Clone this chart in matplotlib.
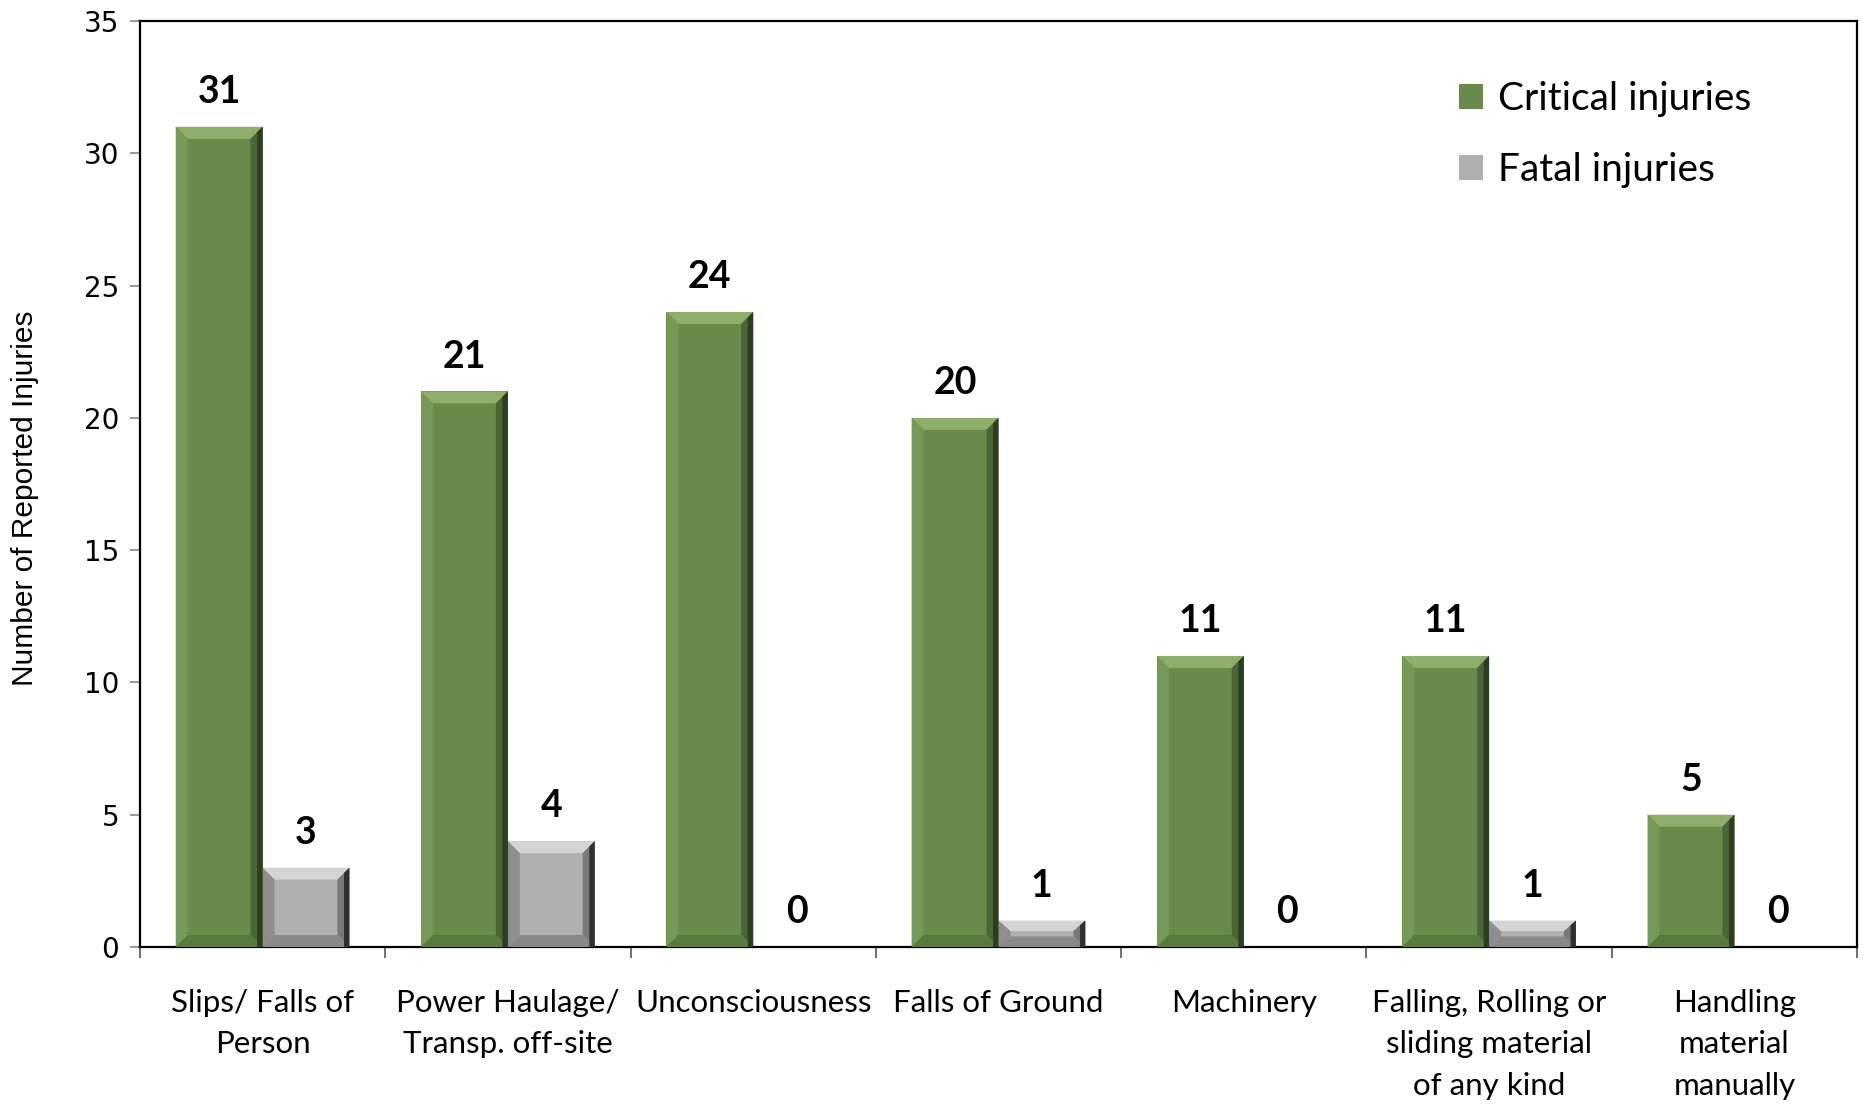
import matplotlib.pyplot as plt
from matplotlib.patches import Polygon
from matplotlib.ticker import FixedLocator
import numpy as np

categories = ['Slips/ Falls of\nPerson', 'Power Haulage/\nTransp. off-site', 'Unconsciousness',
              'Falls of Ground', 'Machinery', 'Falling, Rolling or\nsliding material\nof any kind',
              'Handling\nmaterial\nmanually']
critical = [31, 21, 24, 20, 11, 11, 5]
fatal = [3, 4, 0, 1, 0, 1, 0]

fig = plt.figure(figsize=(18.63, 11.04), dpi=100)
ax = fig.add_axes([0.0751, 0.1422, 0.9217, 0.8388])

x = np.arange(len(categories))
w = 0.354
ax.set_xlim(-0.5, len(categories) - 0.5)
ax.set_ylim(0, 35)

green = '#6a8a4c'
gray = '#b0b0b0'
b1 = ax.bar(x - w / 2, critical, w, color=green, label='Critical injuries')
b2 = ax.bar(x + w / 2, fatal, w, color=gray, label='Fatal injuries')

# fake bevel edges, thickness given in pixels
bbox = ax.get_position()
px_w = bbox.width * fig.get_figwidth() * fig.dpi
px_h = bbox.height * fig.get_figheight() * fig.dpi
tx = 12 * len(categories) / px_w
ty = 12 * 35 / px_h


def bevel(rect, top, left, right, bottom, edge):
    x0, y0 = rect.get_x(), rect.get_y()
    x1, y1 = x0 + rect.get_width(), y0 + rect.get_height()
    if y1 - y0 <= 0:
        return
    t = min(ty, (y1 - y0) / 2.5)
    polys = [
        ([(x0, y1), (x1, y1), (x1 - tx, y1 - t), (x0 + tx, y1 - t)], top),
        ([(x0, y0), (x0, y1), (x0 + tx, y1 - t), (x0 + tx, y0 + t)], left),
        ([(x1, y0), (x1, y1), (x1 - tx, y1 - t), (x1 - tx, y0 + t)], right),
        ([(x0, y0), (x1, y0), (x1 - tx, y0 + t), (x0 + tx, y0 + t)], bottom),
    ]
    for pts, c in polys:
        ax.add_patch(Polygon(pts, closed=True, facecolor=c, edgecolor='none', zorder=3))
    ex = tx * 0.45
    ax.add_patch(Polygon([(x1 - ex, y0), (x1, y0), (x1, y1), (x1 - ex, y1 - t * 0.45)],
                         closed=True, facecolor=edge, edgecolor='none', zorder=4))


for r in b1:
    bevel(r, '#8fae6c', '#779858', '#4a6536', '#587a3e', '#2c3d20')
for r in b2:
    bevel(r, '#d4d4d4', '#8e8e8e', '#7a7a7a', '#888888', '#303030')

for bars, vals in [(b1, critical), (b2, fatal)]:
    for r, v in zip(bars, vals):
        ax.annotate(str(v), (r.get_x() + r.get_width() / 2, r.get_height()),
                    xytext=(0, 25), textcoords='offset points', ha='center', va='center',
                    fontsize=27, fontweight='bold', family='Lato')

ax.set_yticks(range(0, 36, 5))
ax.tick_params(axis='y', labelsize=20, length=7, color='#888888', width=1.2, pad=8)
for lab in ax.get_yticklabels():
    lab.set_family('DejaVu Sans')

ax.set_xticks(x)
ax.set_xticklabels(categories, fontsize=22.5, family='Lato', linespacing=1.6, va='top')
ax.tick_params(axis='x', which='major', length=0, pad=30)
ax.xaxis.set_minor_locator(FixedLocator(np.arange(-0.5, len(categories), 1)))
ax.tick_params(axis='x', which='minor', length=8, color='#555555', width=1.2)

ax.set_ylabel('Number of Reported Injuries', fontsize=21.5, family='Liberation Sans', labelpad=6)
ax.yaxis.set_label_coords(-0.0585, 0.485)

for s in ax.spines.values():
    s.set_linewidth(1.6)
    s.set_color('black')

leg = ax.legend(loc='upper left', bbox_to_anchor=(0.768, 0.935), frameon=False,
                prop={'family': 'Lato', 'size': 28}, handlelength=0.62, handleheight=0.62,
                handletextpad=0.4, labelspacing=0.9, borderpad=0, borderaxespad=0)

fig.savefig('out.png', dpi=100)
